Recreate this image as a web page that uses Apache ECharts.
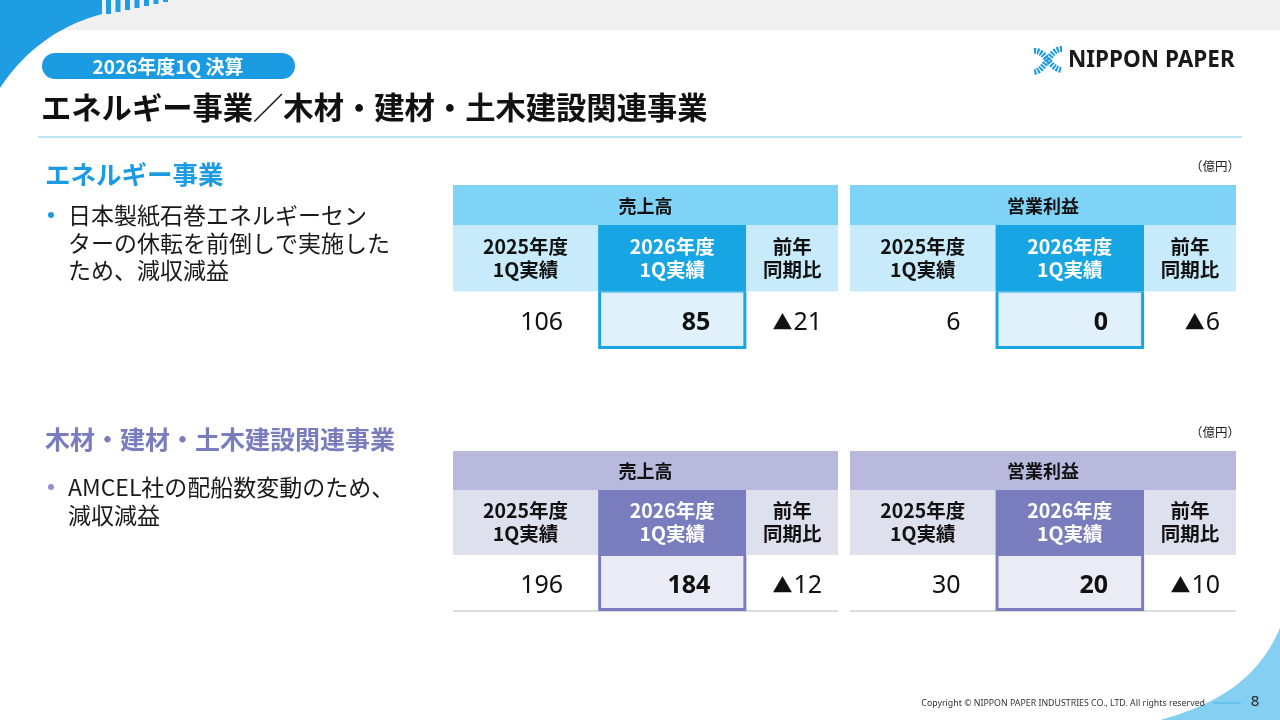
<!DOCTYPE html>
<html>
<head>
<meta charset="utf-8">
<script src="https://cdn.jsdelivr.net/npm/echarts@6/dist/echarts.min.js"></script>
<style>
html, body { margin: 0; padding: 0; background: #fff; }
#main { width: 1280px; height: 720px; }
</style>
</head>
<body>
<div id="main"></div>
<script>
// 表の中身
var metrics = ['売上高', '営業利益'];
var columns = ['2025年度\n1Q実績', '2026年度\n1Q実績', '前年\n同期比'];
var energySales = [106, 85, -21];
var energyProfit = [6, 0, -6];
var woodSales = [196, 184, -12];
var woodProfit = [30, 20, -10];

var energyNote = ['日本製紙石巻エネルギーセン', 'ターの休転を前倒しで実施した', 'ため、減収減益'];
var woodNote = ['AMCEL社の配船数変動のため、', '減収減益'];

var FONT = '"Noto Sans CJK JP", "Noto Sans", sans-serif';
var NUMFONT = '"Noto Sans", "Noto Sans CJK JP", sans-serif';

// 列・行の区切り（表の幅・高さに対する割合）
var colEdges = [0, 0.377, 0.762, 1];
var rowEdges = [0, 0.244, 0.65, 1];
var valuePad = [35, 36, 16];

var themes = {
    energy: { band: '#7fd3f6', head: '#c8ebfb', accent: '#18a5e3', cell: '#e1f1fc', line: null },
    wood: { band: '#b8b9dd', head: '#dfe0ee', accent: '#7a7dbd', cell: '#ebebf5', line: '#d0d0d0' }
};

var tables = [
    { metric: metrics[0], values: energySales, theme: themes.energy, grid: { left: 453, top: 185, width: 385, height: 164 } },
    { metric: metrics[1], values: energyProfit, theme: themes.energy, grid: { left: 850, top: 185, width: 386, height: 164 } },
    { metric: metrics[0], values: woodSales, theme: themes.wood, grid: { left: 453, top: 451, width: 385, height: 160 } },
    { metric: metrics[1], values: woodProfit, theme: themes.wood, grid: { left: 850, top: 451, width: 386, height: 160 } }
];

// 前年同期比のマイナスは▲（小さめの記号）
function fmt(v, i) {
    if (i === 2 && v < 0) {
        return '{tri|▲}' + Math.abs(v);
    }
    return String(v);
}

function buildCells(t) {
    var cells = [];
    if (t.theme.line) cells.push({ kind: 'line', c: 0, r: 2 });
    cells.push({ kind: 'band', c: 0, r: 0, text: t.metric });
    for (var i = 0; i < columns.length; i++) {
        cells.push({ kind: 'head', c: i, r: 1, text: columns[i] });
    }
    for (var j = 0; j < t.values.length; j++) {
        cells.push({ kind: 'value', c: j, r: 2, text: fmt(t.values[j], j) });
    }
    return cells;
}

function makeRender(cells, theme) {
    return function (params, api) {
        var cell = cells[params.dataIndex];
        var c0 = cell.c, c1 = cell.kind === 'band' || cell.kind === 'line' ? 3 : cell.c + 1;
        var p0 = api.coord([colEdges[c0], rowEdges[cell.r]]);
        var p1 = api.coord([colEdges[c1], rowEdges[cell.r + 1]]);
        var x = p0[0], y = p0[1], w = p1[0] - p0[0], h = p1[1] - p0[1];
        var children = [];
        if (cell.kind === 'line') {
            return {
                type: 'line',
                shape: { x1: x, y1: y + h, x2: x + w, y2: y + h },
                style: { stroke: theme.line, lineWidth: 1.5 }
            };
        }
        if (cell.kind === 'band') {
            children.push({ type: 'rect', shape: { x: x, y: y, width: w, height: h }, style: { fill: theme.band } });
            children.push({
                type: 'text',
                style: { text: cell.text, x: x + w / 2, y: y + h / 2 + 1, align: 'center', verticalAlign: 'middle',
                    fontFamily: FONT, fontSize: 18, fontWeight: 'bold', fill: '#111' }
            });
        } else if (cell.kind === 'head') {
            var hi = cell.c === 1;
            children.push({ type: 'rect', shape: { x: x, y: y, width: w, height: h }, style: { fill: hi ? theme.accent : theme.head } });
            children.push({
                type: 'text',
                style: { text: cell.text, x: x + w / 2, y: y + h / 2, align: 'center', verticalAlign: 'middle',
                    fontFamily: FONT, fontSize: 19.5, fontWeight: 'bold', lineHeight: 23, fill: hi ? '#fff' : '#111' }
            });
        } else {
            if (cell.c === 1) {
                children.push({ type: 'rect', shape: { x: x, y: y, width: w, height: h }, style: { fill: theme.accent } });
                children.push({ type: 'rect', shape: { x: x + 3, y: y + 1, width: w - 6, height: h - 4 }, style: { fill: theme.cell } });
            }
            children.push({
                type: 'text',
                style: { text: cell.text, x: x + w - valuePad[cell.c], y: y + h / 2 + 3, align: 'right', verticalAlign: 'middle',
                    fontFamily: NUMFONT, fontSize: 25, fontWeight: cell.c === 1 ? 'bold' : 'normal', fill: '#111',
                    rich: { tri: { fontFamily: FONT, fontSize: 20, fill: '#111', padding: [0, 1, 2, 0] } } }
            });
        }
        return { type: 'group', children: children };
    };
}

var grids = [], xAxes = [], yAxes = [], series = [];
tables.forEach(function (t, k) {
    grids.push(t.grid);
    xAxes.push({ type: 'value', gridIndex: k, min: 0, max: 1, show: false });
    yAxes.push({ type: 'value', gridIndex: k, min: 0, max: 1, inverse: true, show: false });
    var cells = buildCells(t);
    series.push({
        type: 'custom',
        xAxisIndex: k,
        yAxisIndex: k,
        silent: true,
        clip: false,
        renderItem: makeRender(cells, t.theme),
        data: cells.map(function (d) { return [colEdges[d.c], rowEdges[d.r]]; })
    });
});

// 三次ベジェを折れ線に
function bez(p0, p1, p2, p3, n) {
    var pts = [];
    for (var i = 0; i <= n; i++) {
        var t = i / n, u = 1 - t;
        pts.push([
            u * u * u * p0[0] + 3 * u * u * t * p1[0] + 3 * u * t * t * p2[0] + t * t * t * p3[0],
            u * u * u * p0[1] + 3 * u * u * t * p1[1] + 3 * u * t * t * p2[1] + t * t * t * p3[1]
        ]);
    }
    return pts;
}

var cornerPts = [[0, 0], [102, 0]].concat(bez([102, 14], [60, 25], [25, 50], [0, 88], 30));
var footPts = bez([1160, 720], [1215, 705], [1258, 680], [1280, 628], 30).concat([[1280, 720]]);

// 装飾・見出し
var graphics = [
    { type: 'rect', shape: { x: 0, y: 0, width: 1280, height: 30 }, style: { fill: '#f0f0f0' } },
    { type: 'polygon', shape: { points: cornerPts }, style: { fill: '#1e9de3' } },
    { type: 'polygon', shape: { points: footPts }, style: { fill: '#85cff3' } },
    { type: 'rect', shape: { x: 42, y: 53, width: 253, height: 26, r: 13 }, style: { fill: '#1a9be2' } },
    { type: 'text', style: { text: '2026年度1Q 決算', x: 168, y: 67, align: 'center', verticalAlign: 'middle',
        fontFamily: FONT, fontSize: 19, fontWeight: 'bold', fill: '#fff' } },
    { type: 'text', style: { text: 'エネルギー事業／木材・建材・土木建設関連事業', x: 41, y: 107, verticalAlign: 'middle',
        fontFamily: FONT, fontSize: 30.3, fontWeight: 'bold', fill: '#111' } },
    { type: 'line', shape: { x1: 38, y1: 137, x2: 1242, y2: 137 }, style: { stroke: '#a9dcee', lineWidth: 1.5 } },
    // ロゴ
    { type: 'bezierCurve', shape: { x1: 1034, y1: 51, cpx1: 1046, cpy1: 50, cpx2: 1049, cpy2: 69, x2: 1062, y2: 70 },
        style: { stroke: '#1a9be2', lineWidth: 6, fill: null, lineDash: [2, 1.2] } },
    { type: 'bezierCurve', shape: { x1: 1062, y1: 49, cpx1: 1049, cpy1: 49, cpx2: 1046, cpy2: 71, x2: 1034, y2: 72 },
        style: { stroke: '#1a9be2', lineWidth: 6, fill: null, lineDash: [2, 1.2] } },
    { type: 'text', style: { text: 'NIPPON PAPER', x: 1068, y: 61, verticalAlign: 'middle',
        fontFamily: '"Noto Sans", sans-serif', fontSize: 22.5, fontWeight: 'bold', fill: '#1a1a1a' } },
    // セクション見出し
    { type: 'text', style: { text: 'エネルギー事業', x: 45, y: 174, verticalAlign: 'middle',
        fontFamily: FONT, fontSize: 25.5, fontWeight: 'bold', fill: '#1a9be2' } },
    { type: 'text', style: { text: '木材・建材・土木建設関連事業', x: 45, y: 439, verticalAlign: 'middle',
        fontFamily: FONT, fontSize: 25, fontWeight: 'bold', fill: '#7a7dbd' } },
    { type: 'circle', shape: { cx: 51, cy: 215, r: 3 }, style: { fill: '#1a9be2' } },
    { type: 'circle', shape: { cx: 51, cy: 487, r: 3 }, style: { fill: '#8f92cc' } },
    { type: 'text', style: { text: energyNote.join('\n'), x: 68, y: 202, verticalAlign: 'top',
        fontFamily: FONT, fontSize: 23, lineHeight: 27.5, fill: '#1a1a1a' } },
    { type: 'text', style: { text: woodNote.join('\n'), x: 68, y: 474, verticalAlign: 'top',
        fontFamily: FONT, fontSize: 23, lineHeight: 27.5, fill: '#1a1a1a' } },
    { type: 'text', style: { text: '（億円）', x: 1240, y: 166, align: 'right', verticalAlign: 'middle',
        fontFamily: FONT, fontSize: 12.5, fill: '#222' } },
    { type: 'text', style: { text: '（億円）', x: 1240, y: 432, align: 'right', verticalAlign: 'middle',
        fontFamily: FONT, fontSize: 12.5, fill: '#222' } },
    // フッター
    { type: 'text', style: { text: 'Copyright © NIPPON PAPER INDUSTRIES CO., LTD. All rights reserved', x: 1205, y: 703,
        align: 'right', verticalAlign: 'middle', fontFamily: '"Noto Sans", sans-serif', fontSize: 8.8, fill: '#333' } },
    { type: 'line', shape: { x1: 1213, y1: 703, x2: 1241, y2: 703 }, style: { stroke: '#4bb5ea', lineWidth: 1 } },
    { type: 'text', style: { text: '8', x: 1255, y: 702, align: 'center', verticalAlign: 'middle',
        fontFamily: '"Noto Sans", sans-serif', fontSize: 15, fill: '#222' } }
];
// 左上の縞
[14, 12, 10, 8, 6, 4, 2].forEach(function (hgt, i) {
    graphics.splice(2 + i, 0, { type: 'rect', shape: { x: 106 + i * 9.5, y: 0, width: 5, height: hgt }, style: { fill: '#1e9de3' } });
});

var myChart = echarts.init(document.getElementById('main'), null, { renderer: 'canvas' });
myChart.setOption({
    backgroundColor: '#fff',
    animation: false,
    grid: grids,
    xAxis: xAxes,
    yAxis: yAxes,
    series: series,
    graphic: graphics
});
window.addEventListener('resize', function () {
    myChart.resize();
});
</script>
</body>
</html>
